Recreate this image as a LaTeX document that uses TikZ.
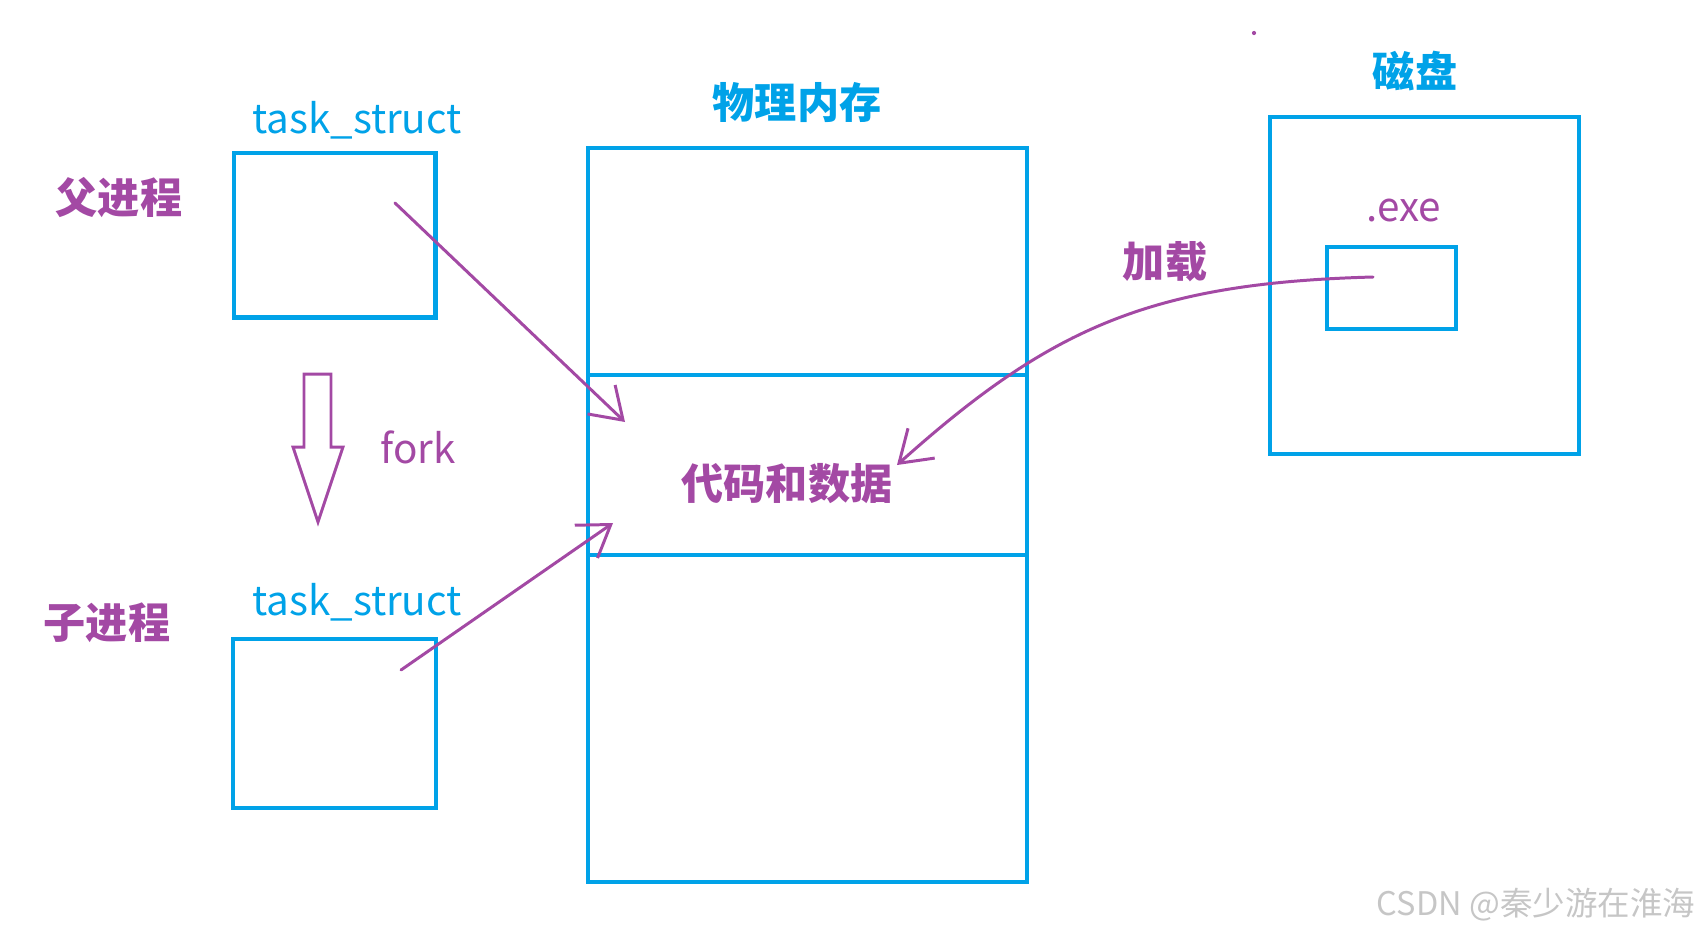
\documentclass[tikz,border=0pt]{standalone}
\usepackage{fontspec}
\setmainfont{Noto Sans CJK SC}
\usetikzlibrary{arrows.meta}
\definecolor{paintblue}{RGB}{0,162,232}
\definecolor{paintpurple}{RGB}{163,73,164}
\tikzset{
  box/.style={draw=paintblue, line width=2.3pt, inner sep=0pt},
  pen/.style={paintpurple, line width=1.7pt, line cap=round, line join=round},
  hand/.style={pen, -{Straight Barb[length=6mm, width=8mm]}},
  bluetext/.style={text=paintblue, inner sep=0pt, font=\fontsize{23}{23}\selectfont},
  purpletext/.style={text=paintpurple, inner sep=0pt, font=\fontsize{23}{23}\selectfont},
  cnlabel/.style={text=paintpurple, inner sep=0pt, font=\bfseries\fontsize{24}{24}\selectfont},
  cntitle/.style={text=paintblue, inner sep=0pt, font=\bfseries\fontsize{24}{24}\selectfont},
}
\begin{document}
\begin{tikzpicture}[x=0.02cm, y=-0.02cm]
  \useasboundingbox (0,0) rectangle (1703,937);
  % Processes
  \node[box, minimum width=4.04cm, minimum height=3.3cm] (parent) at (334.5,235) {};
  \node[box, minimum width=4.06cm, minimum height=3.38cm] (child) at (334.5,723.5) {};
  \node[bluetext] (ptask) at (357,120) {task\_struct};
  \node[bluetext] (ctask) at (357,602) {task\_struct};
  \node[cnlabel] (plabel) at (119,198) {父进程};
  \node[cnlabel] (clabel) at (107,623) {子进程};
  % fork
  \draw[pen, line join=miter] (304,374) -- (331,374) -- (331,447) -- (343,447)
    -- (318,522) -- (293,447) -- (304,447) -- cycle;
  \node[purpletext] (fork) at (418,447) {fork};
  % Physical memory
  \node[box, minimum width=8.78cm, minimum height=14.68cm] (mem) at (807.5,515) {};
  \node[box, minimum width=8.78cm, minimum height=3.6cm] (codebox) at (807.5,465) {};
  \node[cntitle] (memlabel) at (797,102) {物理内存};
  \node[cnlabel] (code) at (787,484) {代码和数据};
  % Disk
  \node[box, minimum width=6.18cm, minimum height=6.74cm] (disk) at (1424.5,285.5) {};
  \node[box, minimum width=2.58cm, minimum height=1.64cm] (exebox) at (1391.5,288) {};
  \node[cntitle] (disklabel) at (1415,71) {磁盘};
  \node[purpletext] (exe) at (1404,211) {.exe};
  \node[cnlabel] (load) at (1165,262) {加载};
  % Arrows
  \coordinate (pptr) at (395,203);
  \coordinate (cptr) at (401,670);
  \coordinate (eptr) at (1373,277);
  \coordinate (codeA) at (625,422);
  \coordinate (codeB) at (613,523);
  \coordinate (codeC) at (897,465);
  \draw[hand] (pptr) -- (codeA);
  \draw[hand] (cptr) -- (codeB);
  \draw[hand] (eptr) .. controls (1150,283) and (1050,328) .. (codeC);
  \fill[paintpurple] (1254,33) circle (1.2pt);
  % Watermark
  \node[text=gray!45, inner sep=0pt, font=\fontsize{18.5}{18.5}\selectfont] (mark) at (1536,905) {CSDN @秦少游在淮海};
\end{tikzpicture}
\end{document}
